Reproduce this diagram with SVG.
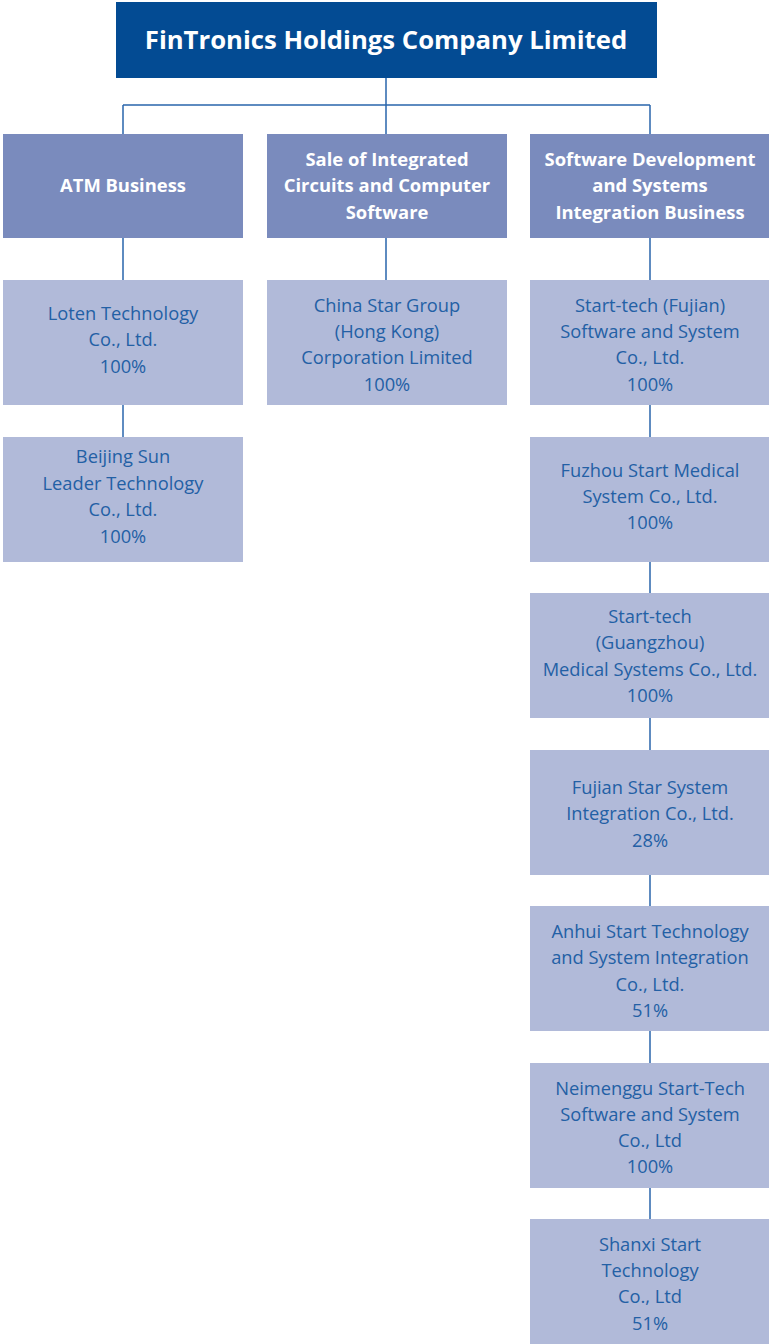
<svg xmlns="http://www.w3.org/2000/svg" width="769" height="1344" viewBox="0 0 769 1344">
<style>
.top{fill:#034B93}
.l2{fill:#7A8BBD}
.l3{fill:#B1BAD9}
.tt{font-family:"Open Sans","Liberation Sans",sans-serif;font-weight:bold;font-size:25.7px;fill:#fff;text-anchor:middle}
.t2{font-family:"Open Sans","Liberation Sans",sans-serif;font-weight:bold;font-size:18.4px;fill:#fff;text-anchor:middle}
.t3{font-family:"Open Sans","Liberation Sans",sans-serif;font-size:18.3px;fill:#2360A5;text-anchor:middle}
.ln{stroke:#2A66AC;stroke-width:1.5;fill:none}
</style>
<rect width="769" height="1344" fill="#fff"/>
<g id="connectors" class="ln">
<path d="M386,78V105M123,105H650M123,105V134M386,105V134M650,105V134"/>
<path d="M123,238V280M386,238V280M650,238V280"/>
<path d="M123,405V437"/>
<path d="M650,405V437M650,562V593M650,718V750M650,875V906M650,1031V1063M650,1188V1219"/>
</g>
<g id="root"><rect class="top" x="116" y="2" width="541" height="76"/><text class="tt" x="386" y="49">FinTronics Holdings Company Limited</text></g>
<g id="atm"><rect class="l2" x="3" y="134" width="240" height="104"/><text class="t2" x="123" y="192">ATM Business</text></g>
<g id="sale"><rect class="l2" x="267" y="134" width="240" height="104"/><text class="t2" x="387" y="166">Sale of Integrated</text><text class="t2" x="387" y="192">Circuits and Computer</text><text class="t2" x="387" y="219">Software</text></g>
<g id="software"><rect class="l2" x="530" y="134" width="239" height="104"/><text class="t2" x="650" y="166">Software Development</text><text class="t2" x="650" y="192">and Systems</text><text class="t2" x="650" y="219">Integration Business</text></g>
<g id="loten"><rect class="l3" x="3" y="280" width="240" height="125"/><text class="t3" x="123" y="320">Loten Technology</text><text class="t3" x="123" y="346">Co., Ltd.</text><text class="t3" x="123" y="373">100%</text></g>
<g id="beijing"><rect class="l3" x="3" y="437" width="240" height="125"/><text class="t3" x="123" y="463">Beijing Sun</text><text class="t3" x="123" y="490">Leader Technology</text><text class="t3" x="123" y="516">Co., Ltd.</text><text class="t3" x="123" y="543">100%</text></g>
<g id="chinastar"><rect class="l3" x="267" y="280" width="240" height="125"/><text class="t3" x="387" y="312">China Star Group</text><text class="t3" x="387" y="338">(Hong Kong)</text><text class="t3" x="387" y="364">Corporation Limited</text><text class="t3" x="387" y="391">100%</text></g>
<g id="fujian"><rect class="l3" x="530" y="280" width="239" height="125"/><text class="t3" x="650" y="312">Start-tech (Fujian)</text><text class="t3" x="650" y="338">Software and System</text><text class="t3" x="650" y="364">Co., Ltd.</text><text class="t3" x="650" y="391">100%</text></g>
<g id="fuzhou"><rect class="l3" x="530" y="437" width="239" height="125"/><text class="t3" x="650" y="477">Fuzhou Start Medical</text><text class="t3" x="650" y="503">System Co., Ltd.</text><text class="t3" x="650" y="529">100%</text></g>
<g id="guangzhou"><rect class="l3" x="530" y="593" width="239" height="125"/><text class="t3" x="650" y="623">Start-tech</text><text class="t3" x="650" y="649">(Guangzhou)</text><text class="t3" x="650" y="676">Medical Systems Co., Ltd.</text><text class="t3" x="650" y="702">100%</text></g>
<g id="fujianstar"><rect class="l3" x="530" y="750" width="239" height="125"/><text class="t3" x="650" y="794">Fujian Star System</text><text class="t3" x="650" y="820">Integration Co., Ltd.</text><text class="t3" x="650" y="847">28%</text></g>
<g id="anhui"><rect class="l3" x="530" y="906" width="239" height="125"/><text class="t3" x="650" y="938">Anhui Start Technology</text><text class="t3" x="650" y="964">and System Integration</text><text class="t3" x="650" y="991">Co., Ltd.</text><text class="t3" x="650" y="1017">51%</text></g>
<g id="neimenggu"><rect class="l3" x="530" y="1063" width="239" height="125"/><text class="t3" x="650" y="1095">Neimenggu Start-Tech</text><text class="t3" x="650" y="1121">Software and System</text><text class="t3" x="650" y="1147">Co., Ltd</text><text class="t3" x="650" y="1173">100%</text></g>
<g id="shanxi"><rect class="l3" x="530" y="1219" width="239" height="125"/><text class="t3" x="650" y="1251">Shanxi Start</text><text class="t3" x="650" y="1277">Technology</text><text class="t3" x="650" y="1303">Co., Ltd</text><text class="t3" x="650" y="1330">51%</text></g>
</svg>
